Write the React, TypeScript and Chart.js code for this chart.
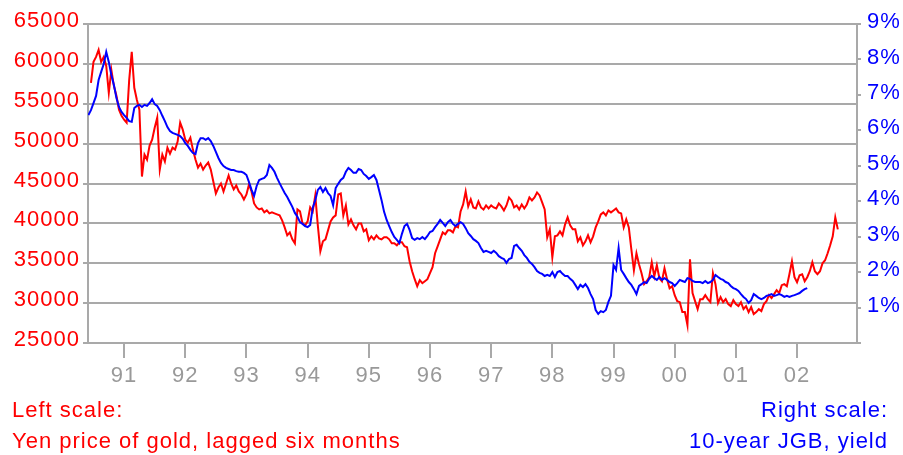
import { useEffect, useRef } from 'react';
import { Chart, registerables } from 'chart.js';

Chart.register(...registerables);

// Time grid: half-month observations starting June 1990
const SERIES_START = 1990 + 10 / 24;
const HALF_MONTH = 1 / 24;
const GOLD_START_INDEX = 1;

const X_MIN = 1990.41;
const X_MAX = 2002.98;
const X_TICK_YEARS = [1991, 1992, 1993, 1994, 1995, 1996, 1997, 1998, 1999, 2000, 2001, 2002];
const X_TICK_LABELS = ['91', '92', '93', '94', '95', '96', '97', '98', '99', '00', '01', '02'];

// Yen price of gold, lagged six months (left scale)
const goldValues = [
  57625, 60250, 60875, 61750, 60250, 60875, 59750, 56375, 59250, 57250,
  56000, 54250, 53500, 53000, 52625, 58000, 61500, 57000, 55500, 54250,
  45875, 48625, 48000, 49750, 50500, 52000, 53250, 46750, 48625, 47750,
  49500, 48750, 49500, 49250, 50250, 52625, 51750, 50500, 50125, 50750,
  49250, 48000, 47000, 47500, 46750, 47250, 47625, 46750, 45250, 43750,
  44500, 45000, 44000, 45000, 46000, 45000, 44250, 44750, 44000, 43625,
  43000, 43625, 44875, 44000, 42500, 42000, 41750, 41875, 41375, 41625,
  41250, 41375, 41250, 41125, 41000, 40375, 39500, 38500, 38875, 38000,
  37500, 41750, 41500, 40000, 39750, 40250, 42000, 41500, 43500, 39750,
  36500, 37750, 38000, 39125, 40250, 40750, 41000, 43625, 43750, 41000,
  42250, 39875, 40500, 39750, 39250, 40000, 40000, 39000, 39250, 37875,
  38375, 38000, 38500, 38125, 38000, 38250, 38250, 38000, 37500, 37500,
  37250, 37625, 37625, 37125, 37000, 35250, 34000, 33000, 32125, 32875,
  32500, 32750, 33000, 33750, 34500, 36250, 37125, 38000, 38875, 38625,
  39125, 39125, 38875, 39625, 39500, 41500, 42375, 44000, 42125, 43000,
  42000, 41875, 42750, 42000, 41750, 42250, 41875, 42250, 42000, 41875,
  42500, 42125, 41625, 42250, 43250, 42875, 42000, 42250, 41750, 42375,
  41875, 42375, 43250, 42875, 43250, 43875, 43500, 42625, 41750, 38250,
  39250, 35750, 38375, 38500, 39000, 38500, 39875, 40750, 39750, 39250,
  39250, 37750, 38250, 37250, 37750, 38500, 37625, 38375, 39500, 40250,
  41125, 41375, 41000, 41625, 41375, 41625, 41875, 41375, 41250, 39500,
  40500, 39500, 36750, 34125, 36250, 34875, 33750, 32375, 32750, 33250,
  35125, 33375, 34750, 33125, 32750, 34375, 33000, 31875, 32125, 31000,
  30250, 30125, 28875, 28875, 27250, 35500, 31250, 30250, 29250, 30500,
  30500, 31000, 30500, 30125, 33750, 32375, 30000, 30750, 30125, 30500,
  29875, 29625, 30375, 29875, 29625, 30125, 29250, 29625, 28875, 29500,
  28625, 28875, 29250, 29000, 29875, 30250, 31000, 30625, 31125, 31625,
  31250, 32250, 32375, 32125, 33625, 35250, 33250, 32625, 33500, 33625,
  32750, 33250, 34000, 35125, 34000, 33625, 34000, 35000, 35375, 36250,
  37250, 38375, 40750, 39250,
];

// 10-year JGB yield, % (right scale)
const jgbValues = [
  6.43, 6.57, 6.77, 6.97, 7.42, 7.65, 7.87, 8.21, 7.93, 7.56,
  7.28, 6.91, 6.66, 6.52, 6.43, 6.35, 6.26, 6.24, 6.63, 6.69,
  6.72, 6.66, 6.72, 6.69, 6.77, 6.88, 6.74, 6.69, 6.57, 6.41,
  6.26, 6.09, 5.98, 5.93, 5.90, 5.87, 5.84, 5.76, 5.64, 5.56,
  5.45, 5.36, 5.33, 5.64, 5.78, 5.78, 5.73, 5.78, 5.70, 5.56,
  5.39, 5.22, 5.08, 4.99, 4.94, 4.91, 4.88, 4.88, 4.85, 4.83,
  4.83, 4.80, 4.74, 4.54, 4.32, 4.15, 4.43, 4.60, 4.63, 4.66,
  4.74, 5.02, 4.94, 4.83, 4.66, 4.51, 4.37, 4.23, 4.12, 3.98,
  3.84, 3.67, 3.56, 3.41, 3.36, 3.30, 3.27, 3.33, 3.81, 4.03,
  4.32, 4.40, 4.26, 4.37, 4.23, 4.15, 3.89, 4.37, 4.49, 4.60,
  4.66, 4.83, 4.94, 4.88, 4.80, 4.80, 4.91, 4.88, 4.77, 4.71,
  4.63, 4.68, 4.74, 4.60, 4.32, 4.03, 3.70, 3.47, 3.30, 3.13,
  2.99, 2.91, 2.82, 3.08, 3.30, 3.36, 3.19, 2.96, 2.91, 2.96,
  2.93, 2.99, 2.93, 3.02, 3.13, 3.16, 3.27, 3.36, 3.47, 3.39,
  3.30, 3.41, 3.47, 3.36, 3.30, 3.36, 3.41, 3.36, 3.24, 3.10,
  3.02, 2.93, 2.88, 2.82, 2.68, 2.57, 2.60, 2.57, 2.54, 2.60,
  2.54, 2.45, 2.40, 2.37, 2.26, 2.37, 2.40, 2.74, 2.77, 2.68,
  2.60, 2.48, 2.40, 2.29, 2.23, 2.14, 2.03, 1.98, 1.95, 1.89,
  1.92, 1.89, 2.00, 1.86, 2.00, 2.03, 1.95, 1.89, 1.89, 1.81,
  1.75, 1.64, 1.52, 1.64, 1.58, 1.66, 1.55, 1.38, 1.24, 0.93,
  0.82, 0.90, 0.87, 0.93, 1.16, 1.33, 2.20, 2.06, 2.68, 2.06,
  1.95, 1.83, 1.72, 1.64, 1.52, 1.38, 1.61, 1.66, 1.72, 1.69,
  1.81, 1.89, 1.83, 1.78, 1.86, 1.78, 1.83, 1.78, 1.72, 1.69,
  1.61, 1.69, 1.78, 1.75, 1.72, 1.83, 1.81, 1.75, 1.72, 1.72,
  1.72, 1.69, 1.75, 1.69, 1.72, 1.78, 1.92, 1.86, 1.81, 1.78,
  1.72, 1.69, 1.61, 1.55, 1.52, 1.47, 1.38, 1.30, 1.24, 1.13,
  1.21, 1.38, 1.33, 1.27, 1.24, 1.27, 1.33, 1.35, 1.38, 1.33,
  1.35, 1.38, 1.35, 1.30, 1.33, 1.30, 1.33, 1.35, 1.38, 1.41,
  1.47, 1.52, 1.55,
];

const LEFT_MIN = 25000;
const LEFT_MAX = 65000;
const LEFT_STEP = 5000;
const RIGHT_MIN = 0;
const RIGHT_MAX = 9;
const RIGHT_STEP = 1;

const GRID = '#a9a9a9';
const RED = '#ff0000';
const BLUE = '#0000ff';
const FONT_FAMILY = '"Liberation Sans", Arial, Helvetica, sans-serif';

export default function App() {
  const ref = useRef<HTMLCanvasElement | null>(null);

  useEffect(() => {
    if (!ref.current) return;
    const goldPts = goldValues.map((v, i) => ({ x: SERIES_START + (i + GOLD_START_INDEX) * HALF_MONTH, y: v }));
    const jgbPts = jgbValues.map((v, i) => ({ x: SERIES_START + i * HALF_MONTH, y: v }));
    const font = { family: FONT_FAMILY, size: 22 };

    const spacing = {
      id: 'letterSpacing',
      beforeDraw(chart: any) {
        chart.ctx.letterSpacing = '1px';
      },
    };

    const chart = new Chart(ref.current, {
      type: 'line',
      data: {
        datasets: [
          {
            label: '10-year JGB, yield',
            data: jgbPts,
            yAxisID: 'yR',
            borderColor: BLUE,
            borderWidth: 2,
            pointRadius: 0,
            tension: 0,
            fill: false,
            order: 0,
          },
          {
            label: 'Yen price of gold, lagged six months',
            data: goldPts,
            yAxisID: 'yL',
            borderColor: RED,
            borderWidth: 2,
            pointRadius: 0,
            tension: 0,
            fill: false,
            order: 1,
          },
        ],
      },
      options: {
        responsive: false,
        animation: false,
        layout: { padding: { top: 24, left: 0, right: 0, bottom: 0 } },
        plugins: {
          legend: { display: false },
          tooltip: { enabled: false },
          title: { display: false },
        },
        scales: {
          x: {
            type: 'linear',
            min: X_MIN,
            max: X_MAX,
            afterBuildTicks: (axis: any) => {
              axis.ticks = X_TICK_YEARS.map((v) => ({ value: v }));
            },
            afterFit: (axis: any) => {
              axis.height = 112;
            },
            ticks: {
              autoSkip: false,
              maxRotation: 0,
              color: '#999999',
              font,
              padding: 5,
              callback: (_v: any, i: number) => X_TICK_LABELS[i],
            },
            grid: {
              drawOnChartArea: false,
              drawTicks: true,
              tickLength: 15,
              color: GRID,
              lineWidth: 2,
            },
            border: { display: true, color: GRID, width: 2 },
          },
          yL: {
            type: 'linear',
            position: 'left',
            min: LEFT_MIN,
            max: LEFT_MAX,
            afterFit: (axis: any) => {
              axis.width = 88;
            },
            ticks: {
              stepSize: LEFT_STEP,
              color: RED,
              font,
              padding: 3,
              labelOffset: -3,
              callback: (v: any) => String(v),
            },
            grid: {
              color: GRID,
              lineWidth: 2,
              tickLength: 5,
            },
            border: { display: true, color: GRID, width: 2 },
          },
          yR: {
            type: 'linear',
            position: 'right',
            min: RIGHT_MIN,
            max: RIGHT_MAX,
            afterFit: (axis: any) => {
              axis.width = 46;
            },
            ticks: {
              stepSize: RIGHT_STEP,
              color: BLUE,
              font,
              padding: 6,
              labelOffset: -2,
              callback: (v: any) => (v === 0 ? '' : v + '%'),
            },
            grid: {
              drawOnChartArea: false,
              color: GRID,
              lineWidth: 2,
              tickLength: 4,
            },
            border: { display: true, color: GRID, width: 2 },
          },
        },
      },
      plugins: [spacing],
    } as any);

    return () => chart.destroy();
  }, []);

  const textBase: any = {
    position: 'absolute',
    fontFamily: FONT_FAMILY,
    fontSize: '22px',
    lineHeight: '22px',
    letterSpacing: '1px',
    whiteSpace: 'nowrap',
  };

  return (
    <div style={{ position: 'fixed', left: 0, top: 0, width: 903, height: 455, background: '#ffffff' }}>
      <canvas ref={ref} width={903} height={455} style={{ width: 903, height: 455, display: 'block' }} />
      <div style={{ ...textBase, left: 12, top: 399, color: RED }}>Left scale:</div>
      <div style={{ ...textBase, left: 12, top: 430, color: RED }}>Yen price of gold, lagged six months</div>
      <div style={{ ...textBase, right: 15, top: 399, color: BLUE, textAlign: 'right' }}>Right scale:</div>
      <div style={{ ...textBase, right: 15, top: 430, color: BLUE, textAlign: 'right' }}>10-year JGB, yield</div>
    </div>
  );
}
